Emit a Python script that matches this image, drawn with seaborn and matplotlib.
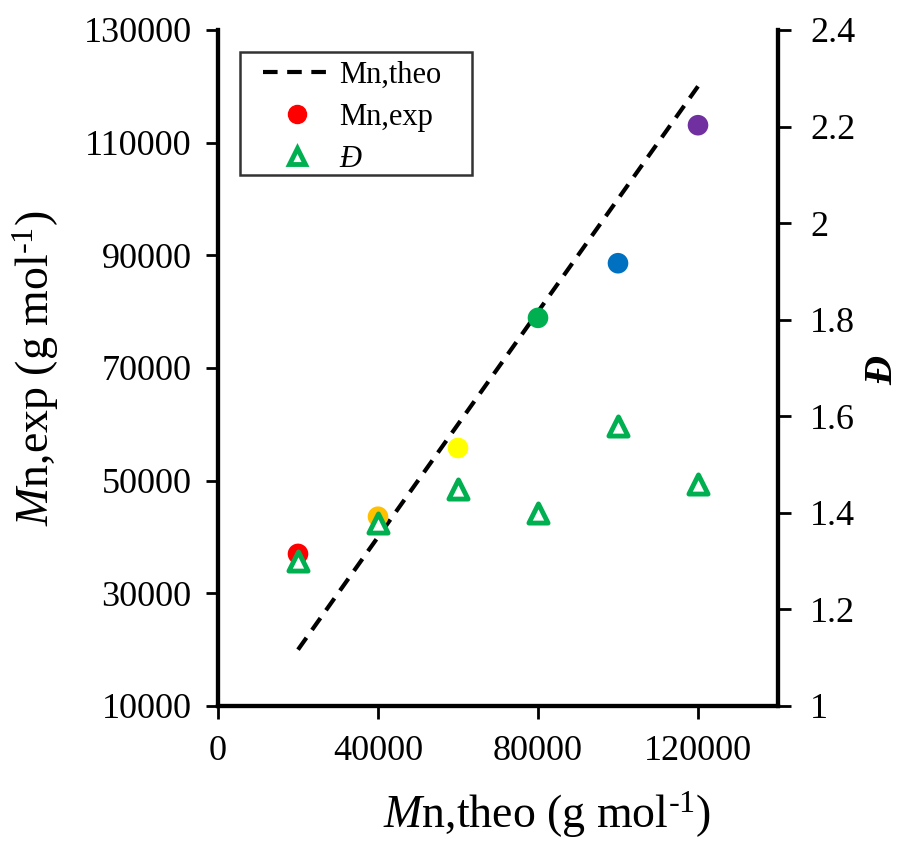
import matplotlib
matplotlib.use("Agg")
import matplotlib.pyplot as plt
import seaborn as sns
import pandas as pd
from matplotlib.lines import Line2D
from matplotlib.path import Path

sns.set_theme(style="white")
plt.rcParams['font.family'] = ['Liberation Serif', 'DejaVu Serif']
plt.rcParams['mathtext.fontset'] = 'custom'
plt.rcParams['mathtext.rm'] = 'Liberation Serif'
plt.rcParams['mathtext.it'] = 'Liberation Serif:italic'
plt.rcParams['mathtext.bf'] = 'Liberation Serif:bold'
plt.rcParams['text.color'] = 'black'
plt.rcParams['axes.labelcolor'] = 'black'

mn_theo = [20000, 40000, 60000, 80000, 100000, 120000]
mn_exp = [37000, 43600, 55800, 78900, 88600, 113100]
dispersity = [1.30, 1.38, 1.45, 1.40, 1.58, 1.46]
point_colors = ['#FF0000', '#FFC000', '#FFFF00', '#00B050', '#0070C0', '#7030A0']
line_x = [20000, 120000]
line_y = [20000, 120000]

df = pd.DataFrame({'theo': mn_theo, 'exp': mn_exp, 'D': dispersity, 'c': point_colors})
dfl = pd.DataFrame({'x': line_x, 'y': line_y})

fig = plt.figure(figsize=(9.05, 8.43), dpi=100)
ax = fig.add_axes([218/905, 1-706/843, (778-218)/905, (706-30)/843])
ax2 = ax.twinx()

dash = (0, (3.5, 2.3))
sns.lineplot(data=dfl, x='x', y='y', ax=ax, color='black', linestyle=dash, linewidth=3)
sns.scatterplot(data=df, x='theo', y='exp', ax=ax, hue='c', palette=dict(zip(point_colors, point_colors)),
                s=220, edgecolor='none', legend=False, zorder=3)
sns.scatterplot(data=df, x='theo', y='D', ax=ax2, marker='^', s=190, facecolor='white',
                edgecolor='#00B050', linewidth=3.5, legend=False, zorder=4)

ax.set_xlim(0, 140000)
ax.set_ylim(10000, 130000)
ax2.set_ylim(1, 2.4)
ax.set_xticks([0, 40000, 80000, 120000])
ax.set_yticks(range(10000, 130001, 20000))
ax2.set_yticks([1, 1.2, 1.4, 1.6, 1.8, 2.0, 2.2, 2.4])
ax2.set_yticklabels(['1', '1.2', '1.4', '1.6', '1.8', '2', '2.2', '2.4'])

for a in (ax, ax2):
    a.spines['top'].set_visible(False)
    for s in ['left', 'right', 'bottom']:
        a.spines[s].set_linewidth(3)
        a.spines[s].set_color('black')
    a.tick_params(axis='both', labelsize=26, width=2, length=9, direction='out', colors='black')
    a.grid(False)
ax.tick_params(axis='y', left=True, right=False, pad=10)
ax.tick_params(axis='x', bottom=True, pad=12)
ax2.tick_params(axis='y', right=True, pad=14)

ax.set_xlabel(r'$\mathit{M}$n,theo (g mol$^{\text{-1}}$)', fontsize=33)
ax.xaxis.set_label_coords((547-218)/560, -(815-706)/676)
ax.xaxis.label.set_va('center')
ax.set_ylabel(r'$\mathit{M}$n,exp (g mol$^{\text{-1}}$)', fontsize=33, labelpad=16)
ax2.set_ylabel('Đ', fontsize=29, fontstyle='italic', fontweight='bold')
ax2.yaxis.set_label_coords((883-218)/560, (706-370)/676)
ax2.yaxis.label.set_va('center')
ax2.yaxis.label.set_ha('center')

handles = [
    Line2D([], [], color='black', linestyle=dash, linewidth=3, label='Mn,theo'),
    Line2D([], [], color='#FF0000', marker='o', linestyle='none', markersize=13, label='Mn,exp'),
    Line2D([], [], color='#00B050', marker='^', markerfacecolor='white', markeredgewidth=3.5,
           linestyle='none', markersize=11, label='Đ'),
]
leg = ax2.legend(handles=handles, loc='upper left', bbox_to_anchor=(36/560, 1-22/676), fontsize=22,
                 frameon=True, fancybox=False, edgecolor='black', handlelength=2.2,
                 borderpad=0.3, labelspacing=0.42, handletextpad=0.3, borderaxespad=0)


def wide_box(x0, y0, width, height, mutation_size):
    left = 0.45 * mutation_size
    right = 0.7 * mutation_size
    bottom = -0.25 * mutation_size
    verts = [(x0 - left, y0 - bottom), (x0 + width + right, y0 - bottom),
             (x0 + width + right, y0 + height), (x0 - left, y0 + height), (x0 - left, y0 - bottom)]
    return Path(verts, closed=True)


leg.get_frame().set_boxstyle(wide_box)
leg.get_frame().set_linewidth(1.8)
leg.get_texts()[2].set_fontstyle('italic')
fig.savefig('out.png', dpi=100)
